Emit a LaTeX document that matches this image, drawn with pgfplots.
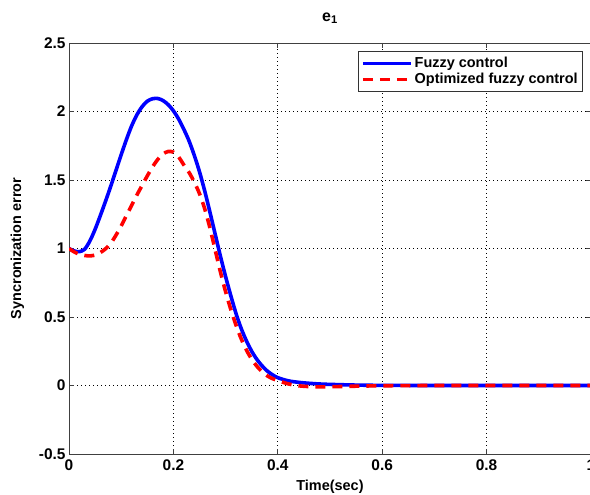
\documentclass[border=0pt]{standalone}
\usepackage{pgfplots}
\pgfplotsset{compat=1.18}
\usepackage{fontspec}
\setmainfont{Liberation Sans}
\begin{document}
\begin{tikzpicture}
\begin{axis}[
  at={(69bp,41bp)}, anchor=south west,
  scale only axis, width=522bp, height=411bp,
  xmin=0, xmax=1, ymin=-0.5, ymax=2.5,
  xtick={0,0.2,0.4,0.6,0.8,1},
  ytick={-0.5,0,0.5,1,1.5,2,2.5},
  /pgf/number format/assume math mode=true,
  tick label style={font=\bfseries\fontsize{15.5}{16}\selectfont},
  xticklabel style={yshift=-2bp},
  tick align=inside,
  major tick length=5bp,
  axis line style={draw=black!75, line width=0.9bp},
  every tick/.style={draw=black!75, line width=0.8bp},
  grid=major,
  major grid style={draw=black, line width=0.8bp, dash pattern=on 1bp off 3bp},
  title={\bfseries e\textsubscript{\bfseries 1}},
  title style={at={(axis description cs:0.5,1)}, anchor=base, yshift=16bp, font=\fontsize{16}{17}\selectfont},
  xlabel={Time(sec)},
  ylabel={Syncronization error},
  every axis x label/.style={at={(axis description cs:0.5,0)}, anchor=base, yshift=-36bp, font=\bfseries\fontsize{14.5}{15}\selectfont},
  every axis y label/.style={at={(axis description cs:-0.0987,0.5)}, rotate=90, anchor=center, font=\bfseries\fontsize{14.5}{15}\selectfont},
  legend style={at={(axis description cs:1,1)}, anchor=north east, xshift=-8bp, yshift=-8bp,
    draw=black!80, line width=0.8bp, font=\bfseries\fontsize{14.5}{15}\selectfont,
    inner xsep=3bp, inner ysep=4bp, row sep=0bp,
    cells={anchor=west}},
  legend image code/.code={\draw[#1] (0bp,0bp) -- (48bp,0bp);},
]
\addplot[blue, line width=3.6bp, smooth] coordinates {
(0.00,1.000) (0.01,0.982) (0.02,0.977) (0.03,0.995) (0.04,1.055) (0.05,1.140)
(0.06,1.240) (0.07,1.345) (0.08,1.455) (0.09,1.570) (0.10,1.685) (0.11,1.795)
(0.12,1.895) (0.13,1.975) (0.14,2.035) (0.15,2.075) (0.16,2.093) (0.17,2.095)
(0.18,2.080) (0.19,2.050) (0.20,2.005) (0.21,1.945) (0.22,1.870) (0.23,1.785)
(0.24,1.680) (0.25,1.560) (0.26,1.420) (0.27,1.265) (0.28,1.105) (0.29,0.945)
(0.30,0.795) (0.31,0.655) (0.32,0.525) (0.33,0.415) (0.34,0.325) (0.35,0.250)
(0.36,0.190) (0.37,0.143) (0.38,0.105) (0.39,0.078) (0.40,0.057) (0.42,0.034)
(0.44,0.023) (0.46,0.016) (0.48,0.011) (0.50,0.008) (0.55,0.003) (0.60,0.001)
(0.70,0.000) (0.80,0.000) (0.90,0.000) (1.00,0.000)
};
\addlegendentry{Fuzzy control}
\addplot[red, line width=3.6bp, dash pattern=on 10bp off 7bp, smooth] coordinates {
(0.00,1.000) (0.01,0.975) (0.02,0.958) (0.03,0.949) (0.04,0.946) (0.05,0.952)
(0.06,0.970) (0.07,0.998) (0.08,1.038) (0.09,1.097) (0.10,1.165) (0.11,1.240)
(0.12,1.315) (0.13,1.390) (0.14,1.460) (0.15,1.530) (0.16,1.595) (0.17,1.650)
(0.18,1.690) (0.19,1.708) (0.20,1.703) (0.21,1.668) (0.22,1.610) (0.23,1.555)
(0.24,1.485) (0.25,1.400) (0.26,1.290) (0.27,1.150) (0.28,0.990) (0.29,0.830)
(0.30,0.685) (0.31,0.555) (0.32,0.440) (0.33,0.340) (0.34,0.258) (0.35,0.192)
(0.36,0.140) (0.37,0.100) (0.38,0.070) (0.39,0.050) (0.40,0.036) (0.42,0.012)
(0.44,-0.002) (0.46,-0.008) (0.48,-0.010) (0.50,-0.009) (0.55,-0.005) (0.60,-0.002)
(0.70,0.000) (0.80,0.000) (0.90,0.000) (1.00,0.000)
};
\addlegendentry{Optimized fuzzy control}
\end{axis}
\pgfresetboundingbox
\useasboundingbox (0,0) rectangle (590bp,495bp);
\end{tikzpicture}
\end{document}
